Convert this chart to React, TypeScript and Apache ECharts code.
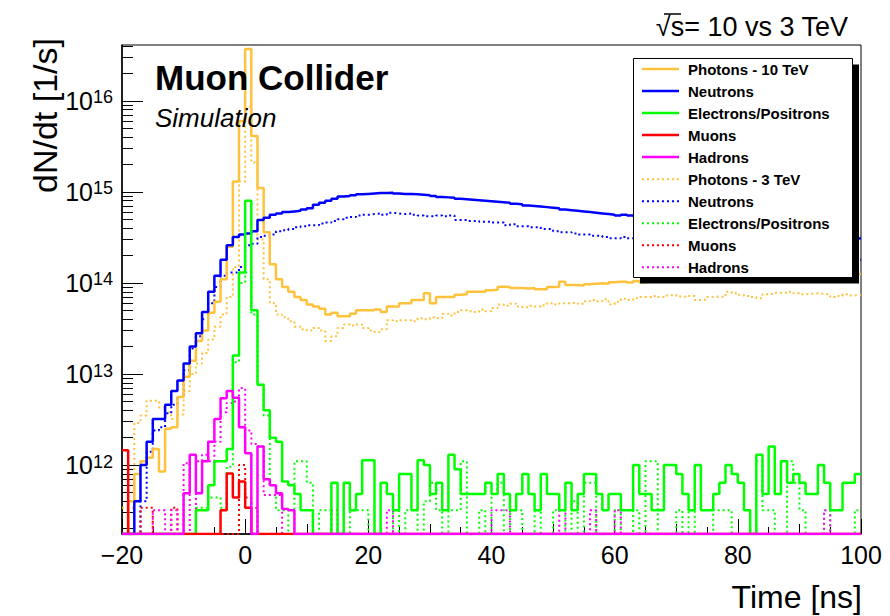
import React, { useEffect, useRef } from "react";
import * as echarts from "echarts";

// ---- binning / axes ----
const BIN_START = -20; // ns, left edge of first bin
const BIN_WIDTH = 1; // ns
const X_MIN = -20;
const X_MAX = 100;
const Y_MIN = 1.75e11;
const Y_MAX = 4.1e16;
const Y_MAJOR = [1e12, 1e13, 1e14, 1e15, 1e16];

// ---- series values (dN/dt per 1 ns bin, 0 = empty bin) ----
const photons10 = [
  0, 4e11, 8e11, 1.1e12, 1.2e12, 1.5e12, 8.5e11, 2.5e12, 2.6e12, 5.6e12,
  9.3e12, 1.4e13, 2.3e13, 3e13, 4.7e13, 6.2e13, 1.1e14, 2.5e14, 1.3e15, 6e15,
  3.7e16, 4.1e15, 1.1e15, 3.6e14, 1.6e14, 1.1e14, 9e13, 8e13, 7e13, 6.5e13,
  5.8e13, 5.5e13, 5.2e13, 4.5e13, 4.7e13, 4.3e13, 4.3e13, 4.6e13, 5e13, 5e13,
  5e13, 5.1e13, 4.8e13, 5.5e13, 5.5e13, 6e13, 6e13, 6.5e13, 6.5e13, 7.7e13,
  6e13, 7e13, 7e13, 7e13, 7.4e13, 7.5e13, 8e13, 8e13, 8e13, 8.3e13,
  8.4e13, 9.1e13, 9e13, 8.8e13, 8.8e13, 8.7e13, 8.8e13, 8.5e13, 8.5e13, 9e13,
  9.1e13, 1.03e14, 9.5e13, 9.5e13, 9.4e13, 9.7e13, 9.8e13, 9.9e13, 9.8e13, 1.02e14,
  1.03e14, 1.03e14, 1.01e14, 1.05e14, 1.02e14, 1.06e14, 1.08e14, 1.05e14, 1.09e14, 1.1e14,
  1.08e14, 1.12e14, 1.1e14, 1.13e14, 1.11e14, 1.15e14, 1.14e14, 1.12e14, 1.16e14, 1.17e14,
  1.15e14, 1.18e14, 1.2e14, 1.17e14, 1.19e14, 1.21e14, 1.18e14, 1.22e14, 1.23e14, 1.2e14,
  1.22e14, 1.24e14, 1.21e14, 1.25e14, 1.23e14, 1.26e14, 1.24e14, 1.22e14, 1.23e14, 1.25e14,
];
const neutrons10 = [
  0, 0, 4e11, 1e12, 1.8e12, 3.2e12, 3.2e12, 4.6e12, 6.5e12, 8.5e12,
  1.3e13, 2e13, 2.8e13, 4.8e13, 8e13, 1.2e14, 1.8e14, 2.6e14, 3.2e14, 3.4e14,
  3.5e14, 3.7e14, 4.9e14, 5.2e14, 5.6e14, 5.8e14, 6e14, 6.1e14, 6.2e14, 6.4e14,
  6.6e14, 7.2e14, 7.6e14, 8e14, 8.4e14, 8.9e14, 9e14, 9.2e14, 9.4e14, 9.5e14,
  9.6e14, 9.7e14, 9.7e14, 9.8e14, 9.6e14, 9.5e14, 9.5e14, 9.4e14, 9.3e14, 9.2e14,
  9e14, 8.8e14, 8.7e14, 8.6e14, 8.4e14, 8.3e14, 8.2e14, 8.1e14, 8e14, 7.9e14,
  7.8e14, 7.7e14, 7.6e14, 7.4e14, 7.3e14, 7.1e14, 7e14, 6.9e14, 6.8e14, 6.7e14,
  6.6e14, 6.4e14, 6.3e14, 6.2e14, 6.1e14, 6e14, 5.9e14, 5.8e14, 5.7e14, 5.6e14,
  5.5e14, 5.6e14, 5.5e14, 5.4e14, 5.35e14, 5.2e14, 5.15e14, 5e14, 4.95e14, 4.8e14,
  4.75e14, 4.6e14, 4.55e14, 4.4e14, 4.35e14, 4.2e14, 4.15e14, 4e14, 3.98e14, 3.9e14,
  3.82e14, 3.75e14, 3.72e14, 3.6e14, 3.57e14, 3.5e14, 3.44e14, 3.41e14, 3.36e14, 3.3e14,
  3.31e14, 3.24e14, 3.2e14, 3.22e14, 3.14e14, 3.1e14, 3.12e14, 3.08e14, 3.05e14, 3.1e14,
];
const electrons10 = [
  0, 0, 0, 0, 0, 0, 0, 0, 0, 0,
  0, 0, 3.2e11, 3.2e11, 6e11, 1.1e12, 1.1e12, 1.5e12, 1.6e13, 1.3e14,
  8e14, 5e13, 7.6e12, 4e12, 2e12, 1.8e12, 6.6e11, 6e11, 4.8e11, 3.2e11,
  3.2e11, 0, 0, 0, 6.4e11, 0, 6.4e11, 3.2e11, 4.8e11, 1.13e12,
  1.13e12, 0, 6.4e11, 4.8e11, 3.2e11, 8e11, 8e11, 3.2e11, 1.13e12, 1e12,
  4.8e11, 6.4e11, 3.2e11, 1.3e12, 9e11, 4.8e11, 4.8e11, 4.8e11, 4.8e11, 6.4e11,
  4.8e11, 8e11, 4.8e11, 3.2e11, 4.8e11, 8e11, 4.8e11, 3.2e11, 8e11, 4.8e11,
  4.8e11, 3.2e11, 6.4e11, 3.2e11, 4.8e11, 8e11, 8e11, 4.8e11, 3.2e11, 4.8e11,
  4.8e11, 3.2e11, 3.2e11, 1e12, 4.8e11, 4.8e11, 3.2e11, 3.2e11, 1e12, 1e12,
  8e11, 4.8e11, 3.2e11, 1e12, 3.2e11, 3.2e11, 4.8e11, 6.4e11, 1e12, 8e11,
  6.4e11, 3.2e11, 0, 1.3e12, 4.8e11, 1.6e12, 4.8e11, 1.1e12, 6.4e11, 8e11,
  6.4e11, 4.8e11, 4.8e11, 1e12, 6.4e11, 3.2e11, 3.2e11, 6.4e11, 6.4e11, 8e11,
];
const muons10 = [
  1.45e12, 0, 0, 0, 0, 0, 0, 0, 0, 0,
  0, 0, 0, 0, 0, 0, 3.2e11, 8.1e11, 4.4e11, 6.6e11,
  3.4e11, 0, 0, 0, 0, 0, 0, 0, 0, 0,
  0, 0, 0, 0, 0, 0, 0, 0, 0, 0,
  0, 0, 0, 0, 0, 0, 0, 0, 0, 0,
  0, 0, 0, 0, 0, 0, 0, 0, 0, 0,
  0, 0, 0, 0, 0, 0, 0, 0, 0, 0,
  0, 0, 0, 0, 0, 0, 0, 0, 0, 0,
  0, 0, 0, 0, 0, 0, 0, 0, 0, 0,
  0, 0, 0, 0, 0, 0, 0, 0, 0, 0,
  0, 0, 0, 0, 0, 0, 0, 0, 0, 0,
  0, 0, 0, 0, 0, 0, 0, 0, 0, 0,
];
const hadrons10 = [
  0, 0, 0, 0, 0, 0, 0, 0, 0, 0,
  4.9e11, 1.3e12, 4.9e11, 1.1e12, 1.8e12, 3.2e12, 5.4e12, 6.5e12, 5.5e12, 2.6e12,
  1.35e12, 0, 1.6e12, 7e11, 6e11, 4.9e11, 3.3e11, 3.2e11, 0, 0,
  0, 0, 0, 0, 0, 0, 0, 0, 0, 0,
  0, 0, 0, 0, 0, 0, 0, 0, 0, 0,
  0, 0, 0, 0, 0, 0, 0, 0, 0, 0,
  0, 0, 0, 0, 0, 0, 0, 0, 0, 0,
  0, 0, 0, 0, 0, 0, 0, 0, 0, 0,
  0, 0, 0, 0, 0, 0, 0, 0, 0, 0,
  0, 0, 0, 0, 0, 0, 0, 0, 0, 0,
  0, 0, 0, 0, 0, 0, 0, 0, 0, 0,
  0, 0, 0, 0, 0, 0, 0, 0, 0, 0,
];
const photons3 = [
  3.4e11, 3.4e11, 2.9e12, 3.5e12, 5.1e12, 5.1e12, 4.3e12, 3.8e12, 3.2e12, 3.6e12,
  6.5e12, 1e13, 1.3e13, 1.7e13, 2.4e13, 3.3e13, 4.5e13, 7e13, 1.5e14, 1.3e15,
  8.6e15, 2.1e15, 3e14, 1.1e14, 6e13, 4.5e13, 4.2e13, 3.8e13, 3.3e13, 3.1e13,
  3e13, 3.2e13, 3e13, 2.3e13, 2.6e13, 3.2e13, 3.5e13, 3.4e13, 3.5e13, 3.2e13,
  3e13, 2.9e13, 3.1e13, 3.9e13, 3.8e13, 3.9e13, 3.9e13, 3.8e13, 4.1e13, 4e13,
  4.2e13, 4.1e13, 4.6e13, 4.4e13, 4.8e13, 5e13, 4.9e13, 4.8e13, 5.1e13, 4.9e13,
  5.3e13, 5.8e13, 5.6e13, 5.9e13, 5.5e13, 5.4e13, 5.6e13, 5.5e13, 5.7e13, 6e13,
  5.8e13, 6e13, 6e13, 6.1e13, 5.9e13, 6.3e13, 6.5e13, 6.3e13, 6.6e13, 5.8e13,
  6.2e13, 6.7e13, 6.5e13, 6.8e13, 7e13, 7e13, 7.2e13, 7e13, 7.3e13, 7.4e13,
  7.1e13, 7e13, 7.2e13, 6.5e13, 6.6e13, 7e13, 7.1e13, 7e13, 8e13, 7.7e13,
  7.4e13, 7.2e13, 7e13, 6.8e13, 7.5e13, 7.6e13, 7.8e13, 7.8e13, 8e13, 7.7e13,
  7.5e13, 7.6e13, 7.7e13, 7.6e13, 7.5e13, 7e13, 7.2e13, 7.5e13, 7.3e13, 7.4e13,
];
const neutrons3 = [
  0, 0, 0, 4e11, 1.4e12, 2.4e12, 2.6e12, 3.7e12, 4.6e12, 5.6e12,
  1.1e13, 1.9e13, 2.6e13, 4e13, 6e13, 9e13, 1.2e14, 1.3e14, 1.3e14, 1.5e14,
  2.6e14, 2.7e14, 3.2e14, 3.3e14, 3.4e14, 3.7e14, 3.8e14, 3.9e14, 4.1e14, 4.2e14,
  4.3e14, 4.3e14, 4.5e14, 4.6e14, 4.8e14, 5e14, 5.2e14, 5.3e14, 5.5e14, 5.6e14,
  5.7e14, 5.8e14, 5.6e14, 5.9e14, 5.8e14, 5.7e14, 5.8e14, 5.6e14, 5.5e14, 5.4e14,
  5.4e14, 5.5e14, 5.4e14, 5.5e14, 4.9e14, 4.9e14, 4.8e14, 4.8e14, 4.7e14, 4.7e14,
  4.6e14, 4.6e14, 4.3e14, 4.4e14, 4.2e14, 4.2e14, 4.1e14, 4.1e14, 3.9e14, 3.9e14,
  3.7e14, 3.6e14, 3.6e14, 3.5e14, 3.4e14, 3.4e14, 3.3e14, 3.3e14, 3.2e14, 3.1e14,
  3.1e14, 3.2e14, 3.1e14, 3e14, 2.97e14, 2.9e14, 2.88e14, 2.8e14, 2.78e14, 2.7e14,
  2.68e14, 2.6e14, 2.58e14, 2.5e14, 2.47e14, 2.4e14, 2.38e14, 2.3e14, 2.27e14, 2.2e14,
  2.21e14, 2.15e14, 2.1e14, 2.12e14, 2.05e14, 2e14, 2.02e14, 1.97e14, 1.95e14, 1.96e14,
  1.92e14, 1.9e14, 1.91e14, 1.88e14, 1.87e14, 1.85e14, 1.86e14, 1.83e14, 1.82e14, 1.8e14,
];
const electrons3 = [
  0, 0, 0, 0, 0, 0, 0, 0, 0, 0,
  0, 0, 3.4e11, 3.4e11, 4.4e11, 4.4e11, 3.4e11, 9.6e11, 1.35e13, 1e14,
  1.3e14, 4.5e13, 7.6e12, 3.5e12, 6e11, 3.2e11, 3.2e11, 0, 1.1e12, 1.1e12,
  6.4e11, 0, 3.2e11, 3.2e11, 0, 0, 0, 3.2e11, 3.2e11, 3.2e11,
  0, 0, 0, 0, 3.2e11, 0, 3.2e11, 3.2e11, 0, 4e11,
  6.4e11, 3.2e11, 0, 3.2e11, 3.2e11, 1.1e12, 0, 0, 3.2e11, 0,
  4.8e11, 6.4e11, 0, 3.2e11, 3.2e11, 0, 0, 3.2e11, 0, 0,
  3.2e11, 3.2e11, 0, 4e11, 0, 6.4e11, 6.4e11, 0, 0, 0,
  3.2e11, 0, 0, 3.2e11, 0, 1.1e12, 1.1e12, 0, 0, 0,
  3.2e11, 0, 3.2e11, 0, 0, 0, 3.2e11, 3.2e11, 3.2e11, 0,
  0, 0, 0, 1.1e12, 3.2e11, 3.2e11, 0, 0, 1.1e12, 6.4e11,
  3.2e11, 0, 0, 0, 3.2e11, 0, 0, 0, 0, 3.2e11,
];
const muons3 = [
  0, 0, 0, 3.4e11, 3.4e11, 0, 0, 0, 3.4e11, 0,
  0, 0, 0, 0, 0, 0, 0, 0, 0, 1e12,
  4.4e11, 3.4e11, 0, 0, 0, 0, 0, 0, 0, 0,
  0, 0, 0, 0, 0, 0, 0, 0, 0, 0,
  0, 0, 0, 0, 0, 0, 0, 0, 0, 0,
  0, 0, 0, 0, 0, 0, 0, 0, 0, 0,
  0, 0, 0, 0, 0, 0, 0, 0, 0, 0,
  0, 0, 0, 0, 0, 0, 0, 0, 0, 0,
  0, 0, 0, 0, 0, 0, 0, 0, 0, 0,
  0, 0, 0, 0, 0, 0, 0, 0, 0, 0,
  0, 0, 0, 0, 0, 0, 0, 0, 0, 0,
  0, 0, 0, 0, 0, 0, 0, 0, 0, 0,
];
const hadrons3 = [
  0, 0, 0, 0, 0, 3.2e11, 3.2e11, 0, 3.2e11, 0,
  1.05e12, 0, 1.1e12, 1.3e12, 1.1e12, 1.8e12, 3.8e12, 4.8e12, 5e12, 7e12,
  2.4e12, 1.7e12, 1.6e12, 4.7e11, 4.7e11, 4.7e11, 0, 0, 0, 0,
  0, 0, 0, 0, 3.2e11, 0, 0, 0, 0, 0,
  0, 0, 0, 3.2e11, 0, 0, 0, 0, 0, 0,
  0, 0, 0, 0, 0, 0, 0, 0, 0, 0,
  3.2e11, 3.2e11, 3.2e11, 0, 0, 0, 0, 0, 0, 0,
  0, 3.2e11, 0, 0, 0, 0, 3.2e11, 0, 0, 0,
  3.2e11, 0, 0, 0, 0, 0, 0, 0, 0, 0,
  0, 0, 0, 0, 0, 0, 0, 0, 0, 0,
  0, 0, 0, 0, 0, 0, 0, 0, 0, 0,
  0, 0, 0, 0, 3.2e11, 0, 0, 0, 0, 0,
];

// ---- legend / styles ----
const LEGEND_LABELS = [
  "Photons - 10 TeV", "Neutrons", "Electrons/Positrons", "Muons", "Hadrons",
  "Photons - 3 TeV", "Neutrons", "Electrons/Positrons", "Muons", "Hadrons",
];
const COLORS = ["#ffc23d", "#0000ff", "#00ff00", "#ff0000", "#ff00ff"];
const SERIES_10 = [photons10, neutrons10, electrons10, muons10, hadrons10];
const SERIES_3 = [photons3, neutrons3, electrons3, muons3, hadrons3];

const FONT = "'Liberation Sans', Arial, Helvetica, sans-serif";
const DOT: number[] = [2, 3];

function toSteps(vals: number[]) {
  const pts: [number, number][] = vals.map((v, i) => [BIN_START + i * BIN_WIDTH, v > 0 ? v : Y_MIN]);
  const last = vals[vals.length - 1];
  pts.push([BIN_START + vals.length * BIN_WIDTH, last > 0 ? last : Y_MIN]);
  return pts;
}

function minorTicks() {
  const out: number[] = [];
  for (let e = 11; e <= 16; e++) {
    for (let m = 2; m <= 9; m++) {
      const v = m * Math.pow(10, e);
      if (v >= Y_MIN && v <= Y_MAX) out.push(v);
    }
  }
  return out;
}

export default function App() {
  const ref = useRef<HTMLDivElement>(null);
  useEffect(() => {
    if (!ref.current) return;
    const chart = echarts.init(ref.current, undefined, { renderer: "svg" });

    const series: any[] = [];
    SERIES_3.forEach((vals, k) => {
      series.push({
        type: "line", name: LEGEND_LABELS[k + 5] + " (3)", data: toSteps(vals), step: "end",
        symbol: "none", showSymbol: false, silent: true, clip: true, z: 2,
        lineStyle: { color: COLORS[k], width: 2, type: DOT },
      });
    });
    SERIES_10.forEach((vals, k) => {
      series.push({
        type: "line", name: LEGEND_LABELS[k] + " (10)", data: toSteps(vals), step: "end",
        symbol: "none", showSymbol: false, silent: true, clip: true, z: 3,
        lineStyle: { color: COLORS[k], width: 2.5, type: "solid" },
      });
    });

    // legend drawn as graphic (duplicate names)
    const LX = 633.5, LY = 58.5, LW = 219, LH = 219;
    const legendEls: any[] = [
      { type: "rect", shape: { x: LX + 6.5, y: LY + 6, width: LW, height: LH }, style: { fill: "#000" }, z: 100 },
      { type: "rect", shape: { x: LX, y: LY, width: LW, height: LH }, style: { fill: "#fff", stroke: "#000", lineWidth: 1 }, z: 101 },
    ];
    LEGEND_LABELS.forEach((lab, i) => {
      const y = 69 + i * 22.03;
      const k = i % 5;
      legendEls.push({
        type: "line", shape: { x1: 642, y1: y, x2: 679, y2: y },
        style: { stroke: COLORS[k], lineWidth: i < 5 ? 2.5 : 2, lineDash: i < 5 ? null : DOT },
        z: 102,
      });
      legendEls.push({
        type: "text", x: 688, y: y + 0.5, z: 102,
        style: { text: lab, font: `bold 15px ${FONT}`, fill: "#000", align: "left", verticalAlign: "middle", textAlign: "left", textVerticalAlign: "middle" },
      });
    });

    const option: any = {
      animation: false,
      backgroundColor: "#fff",
      grid: { left: 122, right: 29, top: 45, bottom: 82, show: true, borderColor: "#000", borderWidth: 1, backgroundColor: "#fff", containLabel: false, outerBoundsMode: "none" },
      xAxis: [
        {
          type: "value", min: X_MIN, max: X_MAX, interval: 20, position: "bottom",
          axisLine: { show: true, onZero: false, lineStyle: { color: "#000", width: 1.5 } },
          axisTick: { show: true, inside: true, length: 15, lineStyle: { color: "#000", width: 1 } },
          minorTick: { show: true, splitNumber: 4, length: 7, lineStyle: { color: "#000", width: 1 } },
          splitLine: { show: false },
          axisLabel: {
            show: true, margin: 8, color: "#000", fontSize: 25, fontFamily: FONT,
            formatter: (v: number) => (v < 0 ? "\u2212" + Math.abs(v) : String(v)),
          },
        },
        {
          type: "value", min: X_MIN, max: X_MAX, interval: 10, position: "bottom", offset: 0,
          axisLine: { show: false, onZero: false },
          axisTick: { show: true, inside: true, length: 10, lineStyle: { color: "#000", width: 1 } },
          axisLabel: { show: false }, splitLine: { show: false },
        },
      ],
      yAxis: [
        {
          type: "log", logBase: 10, min: Y_MIN, max: Y_MAX, position: "left",
          axisLine: { show: true, onZero: false, lineStyle: { color: "#000", width: 1.5 } },
          axisTick: { show: true, inside: true, length: 21, customValues: Y_MAJOR, lineStyle: { color: "#000", width: 1 } },
          splitLine: { show: false }, minorTick: { show: false },
          axisLabel: {
            show: true, margin: 9, customValues: Y_MAJOR,
            formatter: (v: number) => `{b|10}{s|${Math.round(Math.log10(v))}}`,
            rich: {
              b: { fontSize: 25, fontFamily: FONT, color: "#000", lineHeight: 25, verticalAlign: "bottom" },
              s: { fontSize: 18, fontFamily: FONT, color: "#000", lineHeight: 18, verticalAlign: "top", padding: [0, 0, 16, 0] },
            },
          },
        },
        {
          type: "log", logBase: 10, min: Y_MIN, max: Y_MAX, position: "left", offset: 0,
          axisLine: { show: false, onZero: false },
          axisTick: { show: true, inside: true, length: 11, customValues: minorTicks(), lineStyle: { color: "#000", width: 1 } },
          axisLabel: { show: false }, splitLine: { show: false },
        },
      ],
      series,
      graphic: [
        ...legendEls,
        {
          type: "text", x: 155, y: 77, z: 50,
          style: { text: "Muon Collider", font: `bold 35px ${FONT}`, fill: "#000", align: "left", verticalAlign: "middle", textAlign: "left", textVerticalAlign: "middle" },
        },
        {
          type: "text", x: 155, y: 118, z: 50,
          style: { text: "Simulation", font: `italic 26px ${FONT}`, fill: "#000", align: "left", verticalAlign: "middle", textAlign: "left", textVerticalAlign: "middle" },
        },
        {
          type: "text", x: 45, y: 38, rotation: Math.PI / 2, z: 50,
          style: { text: "dN/dt [1/s]", font: `34px ${FONT}`, fill: "#000", align: "right", verticalAlign: "middle", textAlign: "right", textVerticalAlign: "middle" },
        },
        {
          type: "text", x: 862, y: 597, z: 50,
          style: { text: "Time [ns]", font: `32px ${FONT}`, fill: "#000", align: "right", verticalAlign: "middle", textAlign: "right", textVerticalAlign: "middle" },
        },
        {
          type: "text", x: 848, y: 27, z: 50,
          style: { text: "\u221As= 10 vs 3 TeV", font: `27px ${FONT}`, fill: "#000", align: "right", verticalAlign: "middle", textAlign: "right", textVerticalAlign: "middle" },
        },
        {
          type: "line", z: 50,
          shape: { x1: 664, y1: 14, x2: 681, y2: 14 },
          style: { stroke: "#000", lineWidth: 1.5 },
        },
      ],
    };
    chart.setOption(option);
    return () => chart.dispose();
  }, []);
  return <div ref={ref} style={{ position: "absolute", left: 0, top: 0, width: 890, height: 616 }} />;
}
